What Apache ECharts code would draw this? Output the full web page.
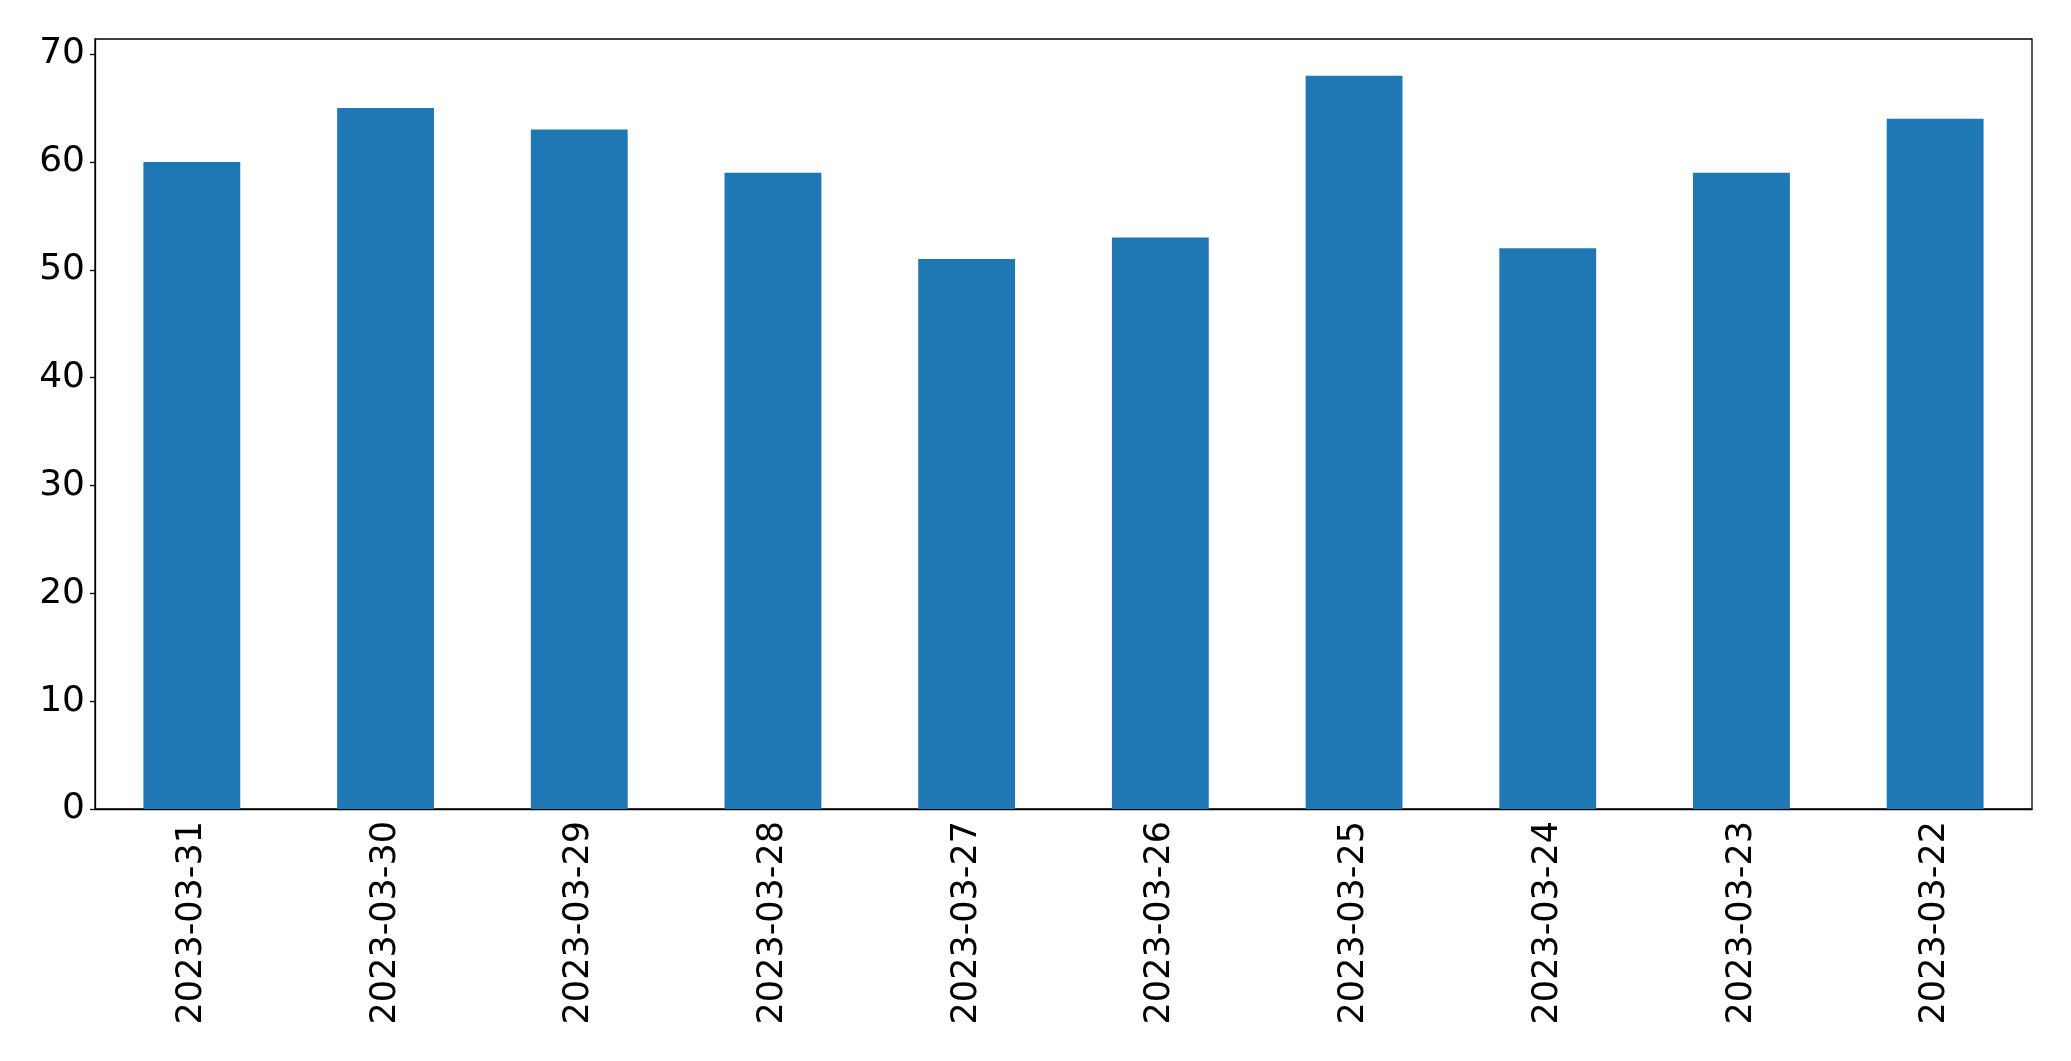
<!DOCTYPE html>
<html>
<head>
<meta charset="utf-8">
<script src="https://cdn.jsdelivr.net/npm/echarts@6/dist/echarts.min.js"></script>
<style>
  html, body { margin: 0; padding: 0; background: #fff; }
  #chart { width: 2071px; height: 1061px; }
</style>
</head>
<body>
<div id="chart"></div>
<script>
// dates shown on the x axis, newest first
var categories = ['2023-03-31', '2023-03-30', '2023-03-29', '2023-03-28', '2023-03-27',
                  '2023-03-26', '2023-03-25', '2023-03-24', '2023-03-23', '2023-03-22']
var values = [60, 65, 63, 59, 51, 53, 68, 52, 59, 64]
var yTicks = [0, 10, 20, 30, 40, 50, 60, 70]

var chart = echarts.init(document.getElementById('chart'))
var font = 'DejaVu Sans'

chart.setOption({
  animation: false,
  grid: {
    left: 95,
    right: 39,
    top: 39,
    bottom: 252,
    show: true,
    borderColor: '#000',
    borderWidth: 1.3
  },
  xAxis: {
    type: 'category',
    data: categories,
    boundaryGap: true,
    axisLine: { lineStyle: { color: '#000', width: 1.3 } },
    axisTick: { alignWithLabel: true, length: 5, lineStyle: { color: '#000', width: 1.3 } },
    axisLabel: { rotate: 90, fontSize: 35, fontFamily: font, color: '#000', margin: 12 }
  },
  yAxis: {
    type: 'value',
    min: 0,
    max: 71.4,
    interval: 10,
    splitLine: { show: false },
    axisLine: { show: true, lineStyle: { color: '#000', width: 1.3 } },
    axisTick: { show: true, length: 5, customValues: yTicks, lineStyle: { color: '#000', width: 1.3 } },
    axisLabel: {
      fontSize: 36, fontFamily: font, color: '#000', margin: 10,
      customValues: yTicks
    }
  },
  series: [{
    type: 'bar',
    data: values,
    barWidth: '50%',
    itemStyle: { color: '#1f77b4' }
  }]
})
</script>
</body>
</html>
